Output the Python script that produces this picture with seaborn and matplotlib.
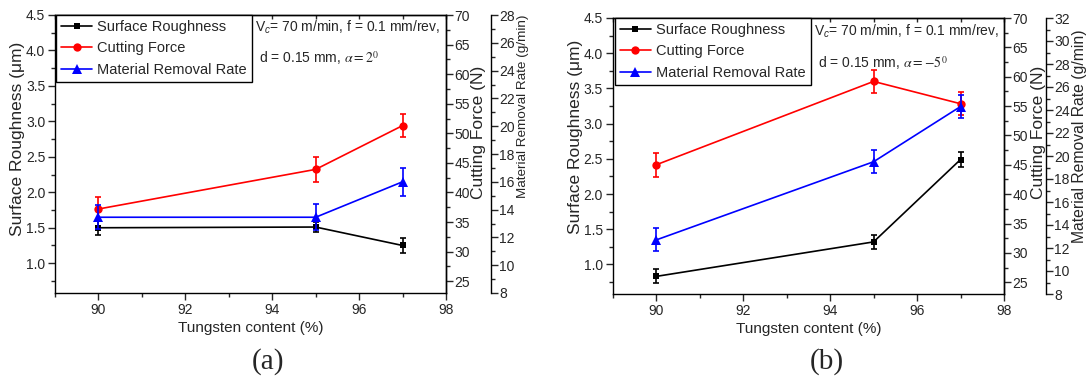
import numpy as np
import pandas as pd
import matplotlib
matplotlib.use("Agg")
import matplotlib.pyplot as plt
import seaborn as sns
from matplotlib.ticker import MultipleLocator

# ---------------- data ----------------
tungsten = [90, 95, 97]

# panel (a): alpha = 2 deg
sr_a = [1.50, 1.51, 1.25]
sr_a_err = [0.10, 0.075, 0.10]
cf_a = [37.2, 43.9, 51.3]
cf_a_err = [2.0, 2.1, 2.0]
mrr_a = [13.45, 13.45, 16.0]
mrr_a_err = [0.87, 0.93, 1.0]

# panel (b): alpha = -5 deg
sr_b = [0.83, 1.32, 2.49]
sr_b_err = [0.10, 0.10, 0.10]
cf_b = [45.0, 59.2, 55.4]
cf_b_err = [2.0, 2.0, 2.0]
mrr_b = [12.7, 19.5, 24.3]
mrr_b_err = [1.0, 1.0, 1.0]

series_labels = ["Surface Roughness", "Cutting Force", "Material Removal Rate"]
x_label = "Tungsten content (%)"
y_labels = ["Surface Roughness (\u03bcm)", "Cutting Force (N)", "Material Removal Rate (g/min)"]
cond_line1 = "V$_{c}$= 70 m/min, f = 0.1 mm/rev,"
cond_line2_a = r"d = 0.15 mm, $\mathit{\alpha} = \mathit{2}^{\mathit{0}}$"
cond_line2_b = r"d = 0.15 mm, $\mathit{\alpha} = -\mathit{5}^{\mathit{0}}$"
panel_tags = ["(a)", "(b)"]

# ---------------- style ----------------
sns.set_style("ticks")
plt.rcParams["font.family"] = ["Liberation Sans", "DejaVu Sans"]
plt.rcParams["mathtext.fontset"] = "custom"
plt.rcParams["mathtext.rm"] = "Liberation Sans"
plt.rcParams["mathtext.it"] = "Liberation Sans:italic"
plt.rcParams["axes.linewidth"] = 1.0
plt.rcParams["axes.edgecolor"] = "black"

W, H = 1089, 378
fig = plt.figure(figsize=(W / 100, H / 100), dpi=100)
fig.patch.set_facecolor("white")

TICK_FS = 10
COLORS = ["black", "red", "blue"]
MARKERS = ["s", "o", "^"]
MSIZES = [5, 6, 6.5]


def px_rect(x0, y0, x1, y1):
    return [x0 / W, 1 - y1 / H, (x1 - x0) / W, (y1 - y0) / H]


def panel(rect, sr, sr_err, cf, cf_err, mrr, mrr_err, mrr_lim, cond2,
          txt_pos, leg_anchor, lab_pos, mrr_fs, offset_px, tag, tag_x):
    ax = fig.add_axes(rect)
    ax2 = ax.twinx()
    ax3 = ax.twinx()
    ax3.spines["right"].set_position(("outward", offset_px * 0.72))
    for a in (ax2, ax3):
        for s in ("top", "left", "bottom"):
            a.spines[s].set_visible(False)

    handles = []
    for a, y, e, c, m, ms, lab in zip((ax, ax2, ax3), (sr, cf, mrr),
                                      (sr_err, cf_err, mrr_err), COLORS,
                                      MARKERS, MSIZES, series_labels):
        df = pd.DataFrame({"x": tungsten, "y": y})
        sns.lineplot(data=df, x="x", y="y", ax=a, color=c, marker=m,
                     markersize=ms, markeredgewidth=0, linewidth=1.2,
                     legend=False, errorbar=None, label=lab)
        handles.append(a.lines[-1])
        a.errorbar(tungsten, y, yerr=e, fmt="none", ecolor=c,
                   elinewidth=1.2, capsize=2.2, capthick=1.2)

    # x axis
    ax.set_xlim(89, 98)
    ax.xaxis.set_major_locator(MultipleLocator(2))
    ax.xaxis.set_minor_locator(MultipleLocator(1))
    ax.tick_params(axis="x", which="major", direction="out", length=5,
                   width=1, labelsize=TICK_FS, pad=2)
    ax.tick_params(axis="x", which="minor", direction="out", length=3,
                   width=1)
    top = ax.secondary_xaxis("top")
    top.set_xticks(np.arange(89, 99, 1))
    top.tick_params(direction="in", length=3, labeltop=False, width=1)

    # left axis
    ax.set_ylim(0.58, 4.5)
    ax.yaxis.set_major_locator(MultipleLocator(0.5))
    ax.yaxis.set_minor_locator(MultipleLocator(0.25))
    ax.yaxis.set_major_formatter(matplotlib.ticker.FormatStrFormatter("%.1f"))
    ax.tick_params(axis="y", which="major", direction="out", length=5,
                   width=1, labelsize=TICK_FS, pad=2)
    ax.tick_params(axis="y", which="minor", direction="out", length=3, width=1)

    # cutting force axis
    ax2.set_ylim(23, 70)
    ax2.yaxis.set_major_locator(MultipleLocator(5))
    ax2.yaxis.set_minor_locator(MultipleLocator(2.5))
    ax2.tick_params(axis="y", which="major", direction="out", length=5,
                    width=1, labelsize=TICK_FS, pad=1)
    ax2.tick_params(axis="y", which="minor", direction="out", length=3, width=1)

    # MRR axis
    ax3.set_ylim(*mrr_lim)
    ax3.yaxis.set_major_locator(MultipleLocator(2))
    ax3.yaxis.set_minor_locator(MultipleLocator(1))
    ax3.tick_params(axis="y", which="major", direction="out", length=5,
                    width=1, labelsize=TICK_FS, pad=1)
    ax3.tick_params(axis="y", which="minor", direction="out", length=3, width=1)

    # labels
    ax.set_xlabel(x_label, fontsize=11)
    ax.xaxis.set_label_coords(0.5, lab_pos[0])
    ax.set_ylabel(y_labels[0], fontsize=12.5, va="center")
    ax.yaxis.set_label_coords(*lab_pos[1])
    ax2.set_ylabel(y_labels[1], fontsize=12.5, va="center")
    ax2.yaxis.set_label_coords(*lab_pos[2])
    ax3.set_ylabel(y_labels[2], fontsize=mrr_fs, va="center")
    ax3.yaxis.set_label_coords(*lab_pos[3])

    # annotation
    ax3.text(txt_pos[0], txt_pos[1], cond_line1, transform=ax.transAxes,
             fontsize=10, va="center", ha="left")
    ax3.text(txt_pos[2], txt_pos[3], cond2, transform=ax.transAxes,
             fontsize=10, va="center", ha="left", math_fontfamily="stix")

    leg = ax3.legend(handles=handles, labels=series_labels, loc="upper left",
                     bbox_to_anchor=leg_anchor, fontsize=10.5,
                     frameon=True, fancybox=False, framealpha=1,
                     edgecolor="black", handlelength=2.1, handletextpad=0.35,
                     borderpad=0.35, labelspacing=0.5, borderaxespad=0.0)
    leg.get_frame().set_linewidth(1.0)

    fig.text(tag_x / W, 1 - 362 / H, tag, fontsize=21,
             family=["Liberation Serif", "DejaVu Serif"],
             ha="center", va="center")
    return ax


panel(px_rect(55, 15, 446, 293), sr_a, sr_a_err, cf_a, cf_a_err, mrr_a,
      mrr_a_err, (8, 28), cond_line2_a,
      (0.5115, 0.957, 0.5217, 0.845), (0.003, 1.0),
      (-0.10, (-0.096, 0.556), (1.082, 0.576), (1.197, 0.673)),
      9.7, 45, panel_tags[0], 268)

panel(px_rect(612.7, 18, 1004, 294), sr_b, sr_b_err, cf_b, cf_b_err, mrr_b,
      mrr_b_err, (8, 32), cond_line2_b,
      (0.514, 0.953, 0.525, 0.837), (0.006, 1.0),
      (-0.10, (-0.094, 0.571), (1.087, 0.585), (1.194, 0.571)),
      11.3, 42, panel_tags[1], 827)

fig.savefig("out.png", dpi=100, facecolor="white")
